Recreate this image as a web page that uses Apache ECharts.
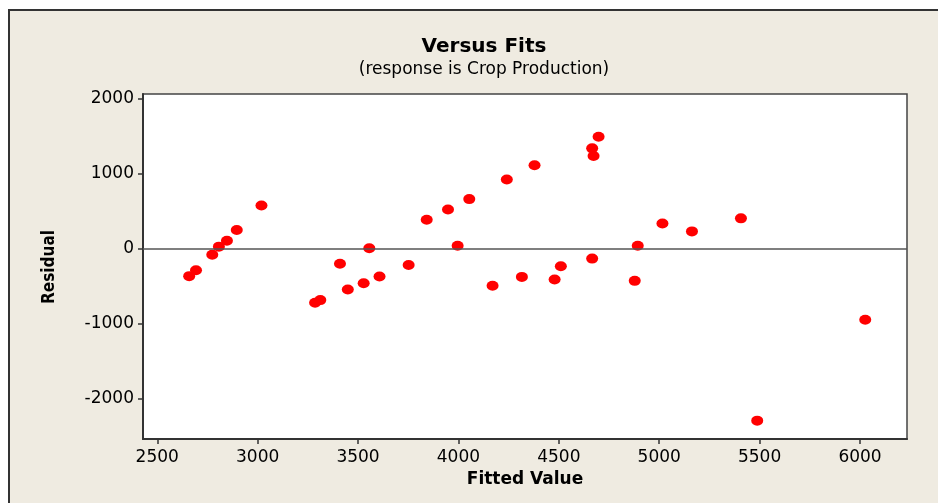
<!DOCTYPE html>
<html>
<head>
<meta charset="utf-8">
<script src="https://cdn.jsdelivr.net/npm/echarts@6/dist/echarts.min.js"></script>
<style>
html,body{margin:0;padding:0;background:#ffffff;}
#chart{width:938px;height:503px;}
</style>
</head>
<body>
<div id="chart"></div>
<script>
var fittedValues = [2659, 2693, 2774, 2807, 2847, 2896, 3019, 3286, 3312, 3410, 3449, 3528, 3556, 3607, 3752, 3842, 3948, 3996, 4054, 4170, 4241, 4316, 4379, 4479, 4510, 4666, 4673, 4698, 4666, 4878, 4893, 5016, 5163, 5407, 5488, 6026];
var residuals = [-365, -286, -80, 27, 106, 248, 575, -720, -684, -200, -543, -459, 5, -370, -216, 384, 522, 40, 659, -494, 919, -375, 1109, -411, -233, 1334, 1232, 1489, -132, -428, 40, 334, 230, 403, -2287, -945];
var xTicks = [2500, 3000, 3500, 4000, 4500, 5000, 5500, 6000];
var yTicks = [-2000, -1000, 0, 1000, 2000];
var titleText = 'Versus Fits';
var subtitleText = '(response is Crop Production)';
var xName = 'Fitted Value';
var yName = 'Residual';

var points = fittedValues.map(function (x, i) { return [x, residuals[i]]; });

var chart = echarts.init(document.getElementById('chart'));
var font = 'DejaVu Sans';
function plain(v) { return String(v); }
chart.setOption({
  animation: false,
  backgroundColor: '#ffffff',
  graphic: [
    { type: 'rect', z: -10, shape: { x: 9, y: 10, width: 1000, height: 600 },
      style: { fill: '#EFEBE1', stroke: '#333333', lineWidth: 2 } },
    { type: 'text', x: 50, y: 267, rotation: Math.PI / 2,
      style: { text: yName, font: 'bold 17px "DejaVu Sans Condensed", "DejaVu Sans"', fill: '#000', align: 'center', verticalAlign: 'middle' } }
  ],
  title: {
    text: titleText,
    subtext: subtitleText,
    left: 479,
    textAlign: 'center',
    top: 32,
    itemGap: 4,
    textStyle: { fontFamily: font, fontWeight: 'bold', fontSize: 20, color: '#000' },
    subtextStyle: { fontFamily: font, fontSize: 17, color: '#000' }
  },
  grid: {
    left: 143, top: 94, right: 31, bottom: 64,
    show: true, backgroundColor: '#ffffff', borderColor: '#444444', borderWidth: 1.5
  },
  xAxis: {
    type: 'value', min: 2429, max: 6234,
    name: xName, nameLocation: 'middle', nameGap: 30,
    nameTextStyle: { fontFamily: font, fontWeight: 'bold', fontSize: 17, color: '#000' },
    axisLine: { show: true, onZero: false, lineStyle: { color: '#333', width: 2 } },
    axisTick: { show: true, length: 5, lineStyle: { color: '#333', width: 1.5 }, customValues: xTicks },
    axisLabel: { fontFamily: font, fontSize: 17, color: '#000', margin: 10, customValues: xTicks, formatter: plain },
    splitLine: { show: false }
  },
  yAxis: {
    type: 'value', min: -2531, max: 2057,
    axisLine: { show: true, onZero: false, lineStyle: { color: '#333', width: 2 } },
    axisTick: { show: true, length: 5, lineStyle: { color: '#333', width: 1.5 }, customValues: yTicks },
    axisLabel: { fontFamily: font, fontSize: 17, color: '#000', margin: 9, customValues: yTicks, formatter: plain },
    splitLine: { show: false }
  },
  series: [{
    type: 'scatter',
    data: points,
    symbol: 'circle',
    symbolSize: [12, 10],
    itemStyle: { color: '#FF0000', opacity: 1 },
    markLine: {
      silent: true, symbol: 'none', label: { show: false },
      lineStyle: { color: '#555555', width: 1.5, type: 'solid' },
      data: [{ yAxis: 0 }]
    },
    z: 3
  }]
});
</script>
</body>
</html>
